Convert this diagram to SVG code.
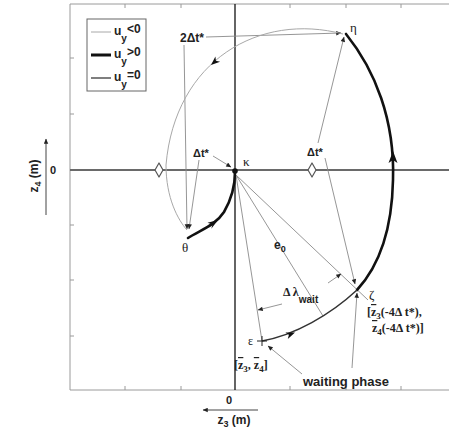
<svg xmlns="http://www.w3.org/2000/svg" width="449" height="434" viewBox="0 0 449 434">
<style>
.frame{stroke:#9a9a9a;stroke-width:1;fill:none}
.tick{stroke:#9a9a9a;stroke-width:1}
.thin{stroke:#a8a8a8;stroke-width:1;fill:none}
.thick{stroke:#111;stroke-width:2.6;fill:none;stroke-linecap:round}
.med{stroke:#333;stroke-width:1.5;fill:none}
.lead{stroke:#8a8a8a;stroke-width:0.9;fill:none}
.sans{font-family:"Liberation Sans",Arial,sans-serif;font-weight:bold;fill:#222}
.serif{font-family:"Liberation Serif","Times New Roman",serif;fill:#222}
.ah{fill:#111}
</style>
<defs>
<marker id="arr" viewBox="0 0 10 10" refX="9.5" refY="5" markerWidth="7" markerHeight="5" markerUnits="userSpaceOnUse" orient="auto"><path d="M0,0.5 L10,5 L0,9.5 z" fill="#222"/></marker>
</defs>
<rect width="449" height="434" fill="#fff"/>

<g id="axes">
<path class="frame" d="M449,4 H70 V390 H449"/>
<path class="tick" d="M125,4v4M181,4v4M290,4v4M346,4v4M401,4v4M125,390v-4M181,390v-4M290,390v-4M346,390v-4M401,390v-4M70,58h4M70,114h4M70,225h4M70,280h4M70,336h4"/>
<line x1="70" y1="170" x2="449" y2="170" stroke="#6a6a6a" stroke-width="2"/>
<line x1="235" y1="4" x2="235" y2="390" stroke="#111" stroke-width="1.3"/>
<text class="sans" x="53" y="174" font-size="11" text-anchor="middle" font-weight="normal">0</text>
<text class="sans" x="229" y="404" font-size="11" text-anchor="middle" font-weight="normal">0</text>
<line x1="46" y1="215" x2="46" y2="139" stroke="#444" stroke-width="1" marker-end="url(#arr)"/>
<line x1="258" y1="410" x2="203" y2="410" stroke="#444" stroke-width="1" marker-end="url(#arr)"/>
<text class="sans" font-size="12" transform="translate(38,176) rotate(-90)" text-anchor="middle">z<tspan font-size="9" dy="3">4</tspan><tspan dy="-3"> (m)</tspan></text>
<text class="sans" font-size="12" x="234" y="424" text-anchor="middle">z<tspan font-size="9" dy="3">3</tspan><tspan dy="-3"> (m)</tspan></text>
</g>

<g id="legend">
<rect x="87" y="19" width="59" height="72" fill="#fff" stroke="#666" stroke-width="1"/>
<line class="thin" x1="91" y1="32" x2="111" y2="32"/>
<line x1="91" y1="55" x2="111" y2="55" stroke="#111" stroke-width="3"/>
<line x1="91" y1="78" x2="111" y2="78" stroke="#555" stroke-width="1.5"/>
<text class="sans" font-size="12" x="114" y="35">u<tspan font-size="10" dy="7">y</tspan><tspan dy="-9">&lt;0</tspan></text>
<text class="sans" font-size="12" x="114" y="58">u<tspan font-size="10" dy="7">y</tspan><tspan dy="-9">&gt;0</tspan></text>
<text class="sans" font-size="12" x="114" y="81">u<tspan font-size="10" dy="7">y</tspan><tspan dy="-9">=0</tspan></text>
</g>

<g id="connectors">
<path class="lead" d="M206,37 L341,33" marker-end="url(#arr)"/>
<path class="lead" d="M184,45 L187,229" marker-end="url(#arr)"/>
<path class="lead" d="M199,160 L189,229" marker-end="url(#arr)"/>
<path class="lead" d="M213,156 L231,167" marker-end="url(#arr)"/>
<path class="lead" d="M318,143 L344,37" marker-end="url(#arr)"/>
<path class="lead" d="M325,158 L355,284" marker-end="url(#arr)"/>
<path class="lead" d="M236,175 L262,341"/>
<path class="lead" d="M236,175 L323,316"/>
<path class="lead" d="M236,175 L368,300"/>
<path class="lead" d="M282,304 L258,310" marker-end="url(#arr)"/>
<path class="lead" d="M328,283 L341,274" marker-end="url(#arr)"/>
<path class="lead" d="M352,368 L357,293" marker-end="url(#arr)"/>
<path class="lead" d="M302,374 L268,346" marker-end="url(#arr)"/>
</g>

<g id="trajectories">
<path id="arc-eta-theta" class="thin" d="M343,34 C260,12 175,60 166,165 C166,198 178,220 187,230"/>
<polygon class="ah" points="211,65 220.1,61.7 215.9,60.7 215.4,56.4"/>
<path id="arc-eta-zeta" class="thick" d="M346,34 C375,70 395,120 393,180 C392,230 380,265 357,290"/>
<polygon class="ah" points="393,151 397.5,163 393,160 388.5,163"/>
<path id="arc-eps-zeta" class="med" d="M262,341 C295,335 330,315 357,290"/>
<polygon class="ah" points="295,332.5 287.8,339 288.9,334.8 285.4,332.4"/>
<path id="arc-theta-kappa" class="thick" d="M188,238 C200,230 215,226 224,212 C231,200 235,186 235,172"/>
<polygon class="ah" points="218,220 211.3,228.8 212.5,224.4 207.5,222.8"/>
</g>

<g id="node-kappa">
<circle cx="235" cy="171" r="2.8" fill="#111"/>
<text class="serif" font-size="13" x="243" y="166">κ</text>
</g>
<g id="node-eta">
<text class="serif" font-size="13" x="350" y="32">η</text>
</g>
<g id="node-theta">
<text class="serif" font-size="13" x="182" y="252">θ</text>
</g>
<g id="node-zeta">
<text class="serif" font-size="13" x="369" y="299">ζ</text>
<text class="serif" font-size="12" font-weight="bold" x="367" y="316">[<tspan text-decoration="overline">z</tspan><tspan font-size="9" dy="3">3</tspan><tspan dy="-3">(-4Δ t*),</tspan></text>
<text class="serif" font-size="12" font-weight="bold" x="372" y="332"><tspan text-decoration="overline">z</tspan><tspan font-size="9" dy="3">4</tspan><tspan dy="-3">(-4Δ t*)]</tspan></text>
</g>
<g id="node-epsilon">
<path d="M257,341 h10 M262,336 v10" stroke="#222" stroke-width="1"/>
<text class="serif" font-size="12" x="248" y="345">ε</text>
<text class="serif" font-size="12" font-weight="bold" x="234" y="369">[<tspan text-decoration="overline">z</tspan><tspan font-size="9" dy="3">3</tspan><tspan dy="-3">, </tspan><tspan text-decoration="overline">z</tspan><tspan font-size="9" dy="3">4</tspan><tspan dy="-3">]</tspan></text>
</g>
<g id="node-diamonds">
<path d="M159,163 L163,170 L159,177 L155,170 Z" fill="#fff" stroke="#555" stroke-width="1.2" stroke-linejoin="round"/>
<path d="M312,163 L316,170 L312,177 L308,170 Z" fill="#fff" stroke="#555" stroke-width="1.2" stroke-linejoin="round"/>
</g>

<g id="labels">
<text class="sans" font-size="12" x="180" y="42">2Δt*</text>
<text class="sans" font-size="11" x="193" y="157">Δt*</text>
<text class="sans" font-size="11" x="307" y="156">Δt*</text>
<text class="sans" font-size="12" x="274" y="249">e<tspan font-size="9" dy="3">0</tspan></text>
<text class="serif" font-size="12" font-weight="bold" x="283" y="296">Δ λ<tspan class="sans" font-size="10" dy="7" font-family="Liberation Sans, Arial, sans-serif">wait</tspan></text>
<text class="sans" font-size="13" x="303" y="386">waiting phase</text>
</g>
</svg>
